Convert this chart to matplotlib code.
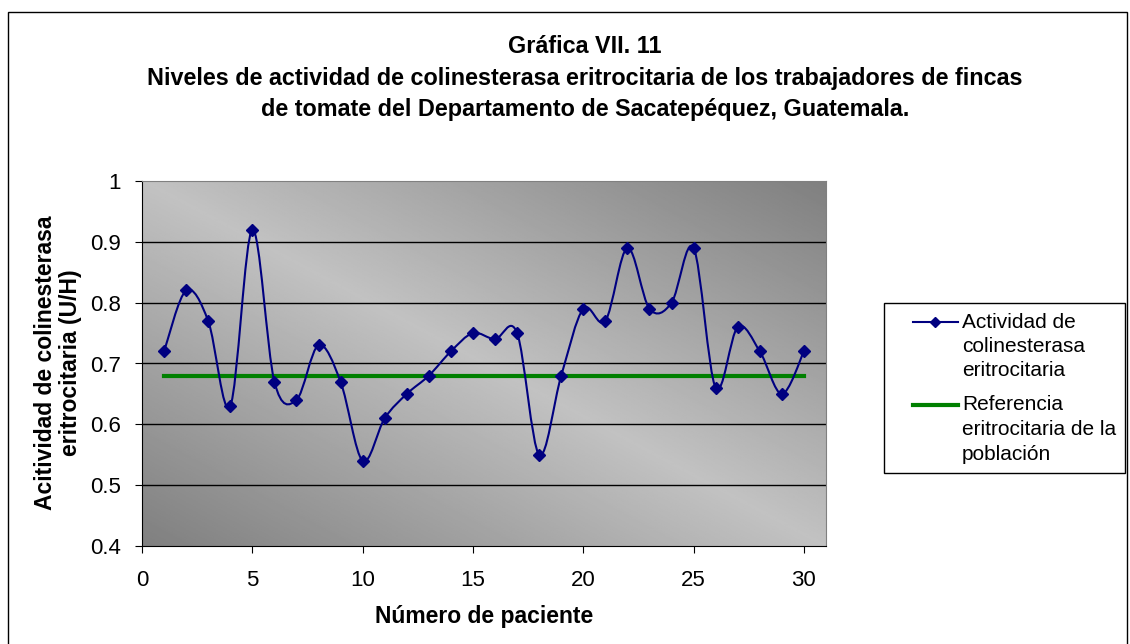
import numpy as np
import matplotlib.pyplot as plt
from matplotlib.patches import Rectangle, PathPatch
from matplotlib.path import Path
from matplotlib.lines import Line2D

plt.rcParams['font.family'] = ['Liberation Sans', 'DejaVu Sans']

pacientes = list(range(1, 31))
actividad = [0.72, 0.82, 0.77, 0.63, 0.92, 0.67, 0.64, 0.73, 0.67, 0.54,
             0.61, 0.65, 0.68, 0.72, 0.75, 0.74, 0.75, 0.55, 0.68, 0.79,
             0.77, 0.89, 0.79, 0.80, 0.89, 0.66, 0.76, 0.72, 0.65, 0.72]
referencia = [0.68] * 30

titulo = ('Gráfica VII. 11\n'
          'Niveles de actividad de colinesterasa eritrocitaria de los trabajadores de fincas\n'
          'de tomate del Departamento de Sacatepéquez, Guatemala.')
etiqueta_act = 'Actividad de\ncolinesterasa\neritrocitaria'
etiqueta_ref = 'Referencia\neritrocitaria de la\npoblación'

W, H = 1130, 644


def smooth_path(x, y):
    # smoothed line like Excel: cubic Bezier through the points
    x = np.asarray(x, float)
    y = np.asarray(y, float)
    verts = [(x[0], y[0])]
    codes = [Path.MOVETO]
    n = len(x)
    for i in range(n - 1):
        p0 = (x[max(i - 1, 0)], y[max(i - 1, 0)])
        p1 = (x[i], y[i])
        p2 = (x[i + 1], y[i + 1])
        p3 = (x[min(i + 2, n - 1)], y[min(i + 2, n - 1)])
        c1 = (p1[0] + (p2[0] - p0[0]) / 6, p1[1] + (p2[1] - p0[1]) / 6)
        c2 = (p2[0] - (p3[0] - p1[0]) / 6, p2[1] - (p3[1] - p1[1]) / 6)
        verts += [c1, c2, p2]
        codes += [Path.CURVE4] * 3
    return Path(verts, codes)


fig = plt.figure(figsize=(W / 100, H / 100), dpi=100)
ax = fig.add_axes([142 / W, 1 - 546 / H, 684 / W, 365 / H])

# gradient background
gx, gy = np.meshgrid(np.linspace(0, 1, 300), np.linspace(0, 1, 300))
t = (gx + gy) / 2
bright = 0.76 - 0.26 * np.abs(2 * t - 1)
ax.imshow(bright, cmap='gray', vmin=0, vmax=1, extent=[0, 31, 0.4, 1],
          origin='lower', aspect='auto', zorder=0)

for v in [0.5, 0.6, 0.7, 0.8, 0.9]:
    ax.axhline(v, color='black', lw=1, zorder=1)

ax.plot(pacientes, referencia, color='#008000', lw=3, zorder=2)
ax.add_patch(PathPatch(smooth_path(pacientes, actividad), facecolor='none',
                       edgecolor='#000080', lw=1.5, zorder=3))
ax.plot(pacientes, actividad, linestyle='none', marker='D', ms=6.5,
        color='#000080', zorder=4)

ax.set_xlim(0, 31)
ax.set_ylim(0.4, 1)
ax.set_xticks(range(0, 31, 5))
ax.set_yticks([0.4, 0.5, 0.6, 0.7, 0.8, 0.9, 1])
ax.set_yticklabels(['0.4', '0.5', '0.6', '0.7', '0.8', '0.9', '1'])
ax.tick_params(labelsize=16, direction='out', length=5, color='black')
ax.tick_params(axis='x', pad=12)
ax.tick_params(axis='y', pad=10)
for s in ax.spines.values():
    s.set_color('#808080')
ax.spines['left'].set_color('black')
ax.spines['bottom'].set_color('black')

fig.text(484 / W, 1 - 617 / H, 'Número de paciente', ha='center', va='center',
         fontsize=16.5, fontweight='bold')
fig.text(58 / W, 1 - 363 / H, 'Acitividad de colinesterasa\neritrocitaria (U/H)',
         ha='center', va='center', rotation=90, fontsize=16.5,
         fontweight='bold', linespacing=1.15)

fig.text(585 / W, 1 - 78 / H, titulo, ha='center', va='center',
         fontsize=16.8, fontweight='bold', linespacing=1.45)

# legend drawn by hand, first text line beside the handle
fig.patches.append(Rectangle((884 / W, 1 - 473 / H), 241 / W, 170 / H,
                             transform=fig.transFigure, fill=False,
                             edgecolor='black', lw=1))
entradas = [(etiqueta_act, dict(color='#000080', lw=1.5, marker='D', ms=5,
                                markevery=[1]), 322),
            (etiqueta_ref, dict(color='#008000', lw=3), 405)]
for texto, estilo, y0 in entradas:
    fig.lines.append(Line2D([913 / W, 935 / W, 958 / W], [1 - y0 / H] * 3,
                            transform=fig.transFigure, **estilo))
    for k, linea in enumerate(texto.split('\n')):
        fig.text(962 / W, 1 - (y0 + 24.5 * k) / H, linea, ha='left',
                 va='center', fontsize=15)

fig.patches.append(Rectangle((8 / W, -0.01), 1119 / W, 1 - 12 / H + 0.01,
                             transform=fig.transFigure, fill=False,
                             edgecolor='black', lw=1))

fig.savefig('out.png', dpi=100)
